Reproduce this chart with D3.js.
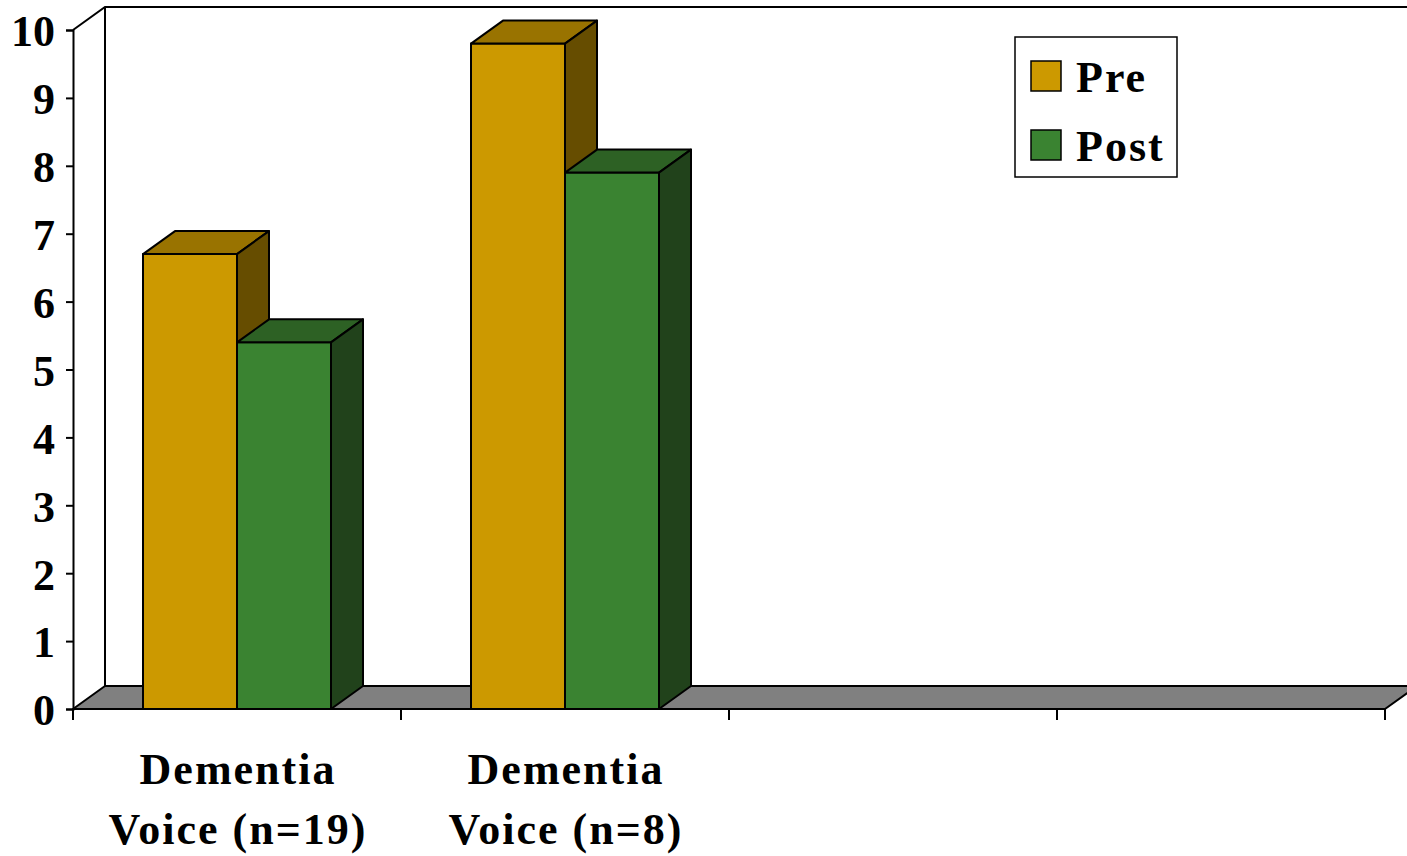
<!DOCTYPE html>
<html>
<head>
<meta charset="utf-8">
<script src="https://cdn.jsdelivr.net/npm/d3@7"></script>
<style>
  html, body { margin: 0; padding: 0; background: #fff; }
  svg { display: block; }
  text { font-family: "Liberation Serif", "DejaVu Serif", serif; font-weight: bold; fill: #000; }
</style>
</head>
<body>
<svg id="chart" width="1407" height="856"></svg>
<script>
// Chart data
const categories = [["Dementia", "Voice (n=19)"], ["Dementia", "Voice (n=8)"], [], []];
const seriesNames = ["Pre", "Post"];
const preValues = [6.7, 9.8];
const postValues = [5.4, 7.9];
const yTicks = [0, 1, 2, 3, 4, 5, 6, 7, 8, 9, 10];

// Face colours per series: front, top, side
const faces = {
  Pre:  { front: "#CC9900", top: "#997300", side: "#664D00" },
  Post: { front: "#3A8331", top: "#2D6124", side: "#21421B" }
};

const svg = d3.select("#chart");
const W = 1407;
const plotLeft = 73, plotRight = 1385, plotBottom = 709, plotTop = 30;
const dx = 32, dy = -23; // depth offset of the 3D box

const y = d3.scaleLinear().domain([0, 10]).range([plotBottom, plotTop]);
const x = d3.scaleBand().domain(d3.range(categories.length)).range([plotLeft, plotRight]);
const xs = d3.scaleBand().domain(seriesNames).range([70, x.bandwidth() - 70]);

const seriesData = { Pre: preValues, Post: postValues };

// Back wall edges
const wall = svg.append("g").attr("stroke", "#000").attr("stroke-width", 2).attr("fill", "none");
wall.append("path").attr("d", `M${plotLeft},${y(10)} L${plotLeft + dx},${y(10) + dy} L${W + 20},${y(10) + dy}`);
wall.append("line").attr("x1", plotLeft + dx).attr("x2", plotLeft + dx).attr("y1", y(10) + dy).attr("y2", y(0) + dy);

// Floor
svg.append("path")
  .attr("d", `M${plotLeft},${y(0)} L${plotRight},${y(0)} L${plotRight + dx},${y(0) + dy} L${plotLeft + dx},${y(0) + dy} Z`)
  .attr("fill", "#808080").attr("stroke", "#000").attr("stroke-width", 2).attr("stroke-linejoin", "round");

// Bars
const bars = svg.append("g").attr("stroke", "#000").attr("stroke-width", 2).attr("stroke-linejoin", "round");
categories.forEach((cat, i) => {
  seriesNames.forEach(s => {
    const v = seriesData[s][i];
    if (v === undefined) return;
    const x0 = x(i) + xs(s), x1 = x0 + xs.bandwidth();
    const y0 = y(0), y1 = y(v);
    const c = faces[s];
    bars.append("path").attr("fill", c.front)
      .attr("d", `M${x0},${y0} L${x1},${y0} L${x1},${y1} L${x0},${y1} Z`);
    bars.append("path").attr("fill", c.top)
      .attr("d", `M${x0},${y1} L${x1},${y1} L${x1 + dx},${y1 + dy} L${x0 + dx},${y1 + dy} Z`);
    bars.append("path").attr("fill", c.side)
      .attr("d", `M${x1},${y0} L${x1 + dx},${y0 + dy} L${x1 + dx},${y1 + dy} L${x1},${y1} Z`);
  });
});

// Y axis
const yAxis = svg.append("g").attr("transform", `translate(${plotLeft},0)`)
  .call(d3.axisLeft(y).tickValues(yTicks).tickSize(7).tickPadding(11).tickFormat(d3.format("d")));
yAxis.select(".domain").attr("stroke", "#000").attr("stroke-width", 2);
yAxis.selectAll(".tick line").attr("stroke", "#000").attr("stroke-width", 2);
yAxis.selectAll(".tick text").attr("font-size", 44).attr("dy", "0.36em")
  .style("font-family", '"Liberation Serif", serif').style("font-weight", "bold");

// X axis: front floor edge with category ticks
const xTickPos = d3.range(categories.length + 1).map(i => i < categories.length ? x(i) : plotRight);
const xAxis = svg.append("g").attr("stroke", "#000").attr("stroke-width", 2);
xAxis.append("line").attr("x1", plotLeft).attr("x2", plotRight).attr("y1", y(0)).attr("y2", y(0));
xAxis.selectAll("line.tick").data(xTickPos).join("line").attr("class", "tick")
  .attr("x1", d => d).attr("x2", d => d).attr("y1", y(0)).attr("y2", y(0) + 11);

// Category labels
const catLabels = svg.append("g");
categories.forEach((lines, i) => {
  const cx = x(i) + x.bandwidth() / 2 + 1;
  const t = catLabels.append("text").attr("text-anchor", "middle").attr("font-size", 44)
    .attr("letter-spacing", 2).attr("x", cx).attr("y", 784);
  lines.forEach((ln, j) => t.append("tspan").attr("x", cx).attr("dy", j === 0 ? 0 : 60).text(ln));
});

// Legend
const legend = svg.append("g");
legend.append("rect").attr("x", 1015).attr("y", 37).attr("width", 162).attr("height", 140)
  .attr("fill", "#fff").attr("stroke", "#000").attr("stroke-width", 1.5);
seriesNames.forEach((s, i) => {
  const gy = 61 + i * 69;
  legend.append("rect").attr("x", 1031).attr("y", gy).attr("width", 30).attr("height", 30)
    .attr("fill", faces[s].front).attr("stroke", "#000").attr("stroke-width", 1.5);
  legend.append("text").attr("x", 1076).attr("y", gy + 31).attr("font-size", 44)
    .attr("letter-spacing", 2).text(s);
});
</script>
</body>
</html>
